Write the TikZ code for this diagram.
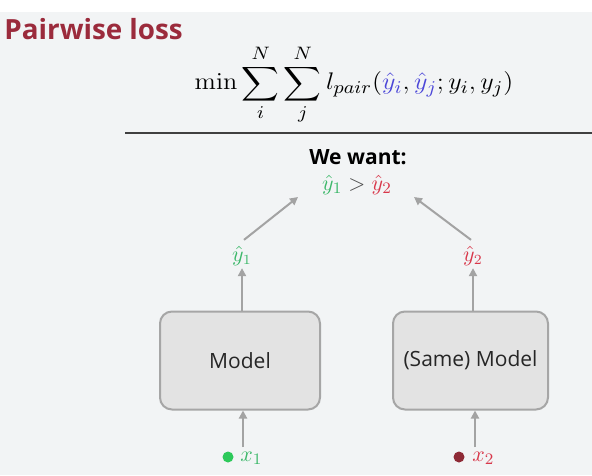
\documentclass[tikz,border=0pt]{standalone}
\usepackage{amsmath}
\usepackage{graphicx}
\usepackage[no-math]{fontspec}
\setmainfont{Open Sans}
\usetikzlibrary{arrows.meta}
\definecolor{titlered}{HTML}{9B2B3C}
\definecolor{ygreen}{HTML}{3DB86A}
\definecolor{yred}{HTML}{D8374A}
\definecolor{dotred}{HTML}{8E2A36}
\definecolor{dotgreen}{HTML}{2DC95A}
\definecolor{yblue}{HTML}{4B46D8}
\definecolor{arrowgrey}{HTML}{A3A3A3}
\definecolor{boxfill}{HTML}{E3E3E3}
\definecolor{boxline}{HTML}{A6A6A6}
\definecolor{slidebg}{HTML}{F2F4F5}
\tikzset{
  modelbox/.style={draw=boxline, fill=boxfill, line width=1pt, rounded corners=6pt, inner sep=0pt, font=\fontsize{10.5}{12}\selectfont, text=black!85},
  conn/.style={draw=arrowgrey, line width=1pt, -{Triangle[length=4pt,width=4pt]}},
  lab/.style={inner sep=1pt},
  dotg/.style={circle, fill=dotgreen, inner sep=0pt, minimum size=5.5pt},
  dotr/.style={circle, fill=dotred, inner sep=0pt, minimum size=5.5pt}
}
\begin{document}
\begin{tikzpicture}[x=0.5pt,y=-0.5pt]
\useasboundingbox (0,0) rectangle (592,475);
\fill[white] (0,0) rectangle (592,12);
\fill[slidebg] (0,12) rectangle (592,475);
\node[anchor=west, inner sep=0pt, text=titlered, font=\bfseries\fontsize{13.9}{16}\selectfont] (title) at (4,29) {Pairwise loss};
\node[inner sep=0pt, font=\fontsize{13.2}{16}\selectfont] (formula) at (354,85) {\scalebox{1.09}[1]{$\displaystyle \min\sum_{i}^{N}\sum_{j}^{N} l_{pair}(\textcolor{yblue}{\hat{y}_i}, \textcolor{yblue}{\hat{y}_j}; y_i, y_j)$}};
\coordinate (ruleL) at (125,133);
\coordinate (ruleR) at (592,133);
\draw[black!75, line width=0.6pt] (ruleL) -- (ruleR);
\node[font=\bfseries\fontsize{10.5}{12}\selectfont, inner sep=0pt] (want) at (358,157) {We want:};
\node[font=\fontsize{11}{13}\selectfont, inner sep=1pt] (cmp) at (357,185) {$\textcolor{ygreen}{\hat{y}_1} \mathrel{\textcolor{black!70}{>}} \textcolor{yred}{\hat{y}_2}$};
\coordinate (cmpL) at (298,197);
\coordinate (cmpR) at (414,197);
\node[modelbox, minimum width=80pt, minimum height=49pt] (m1) at (240,360.5) {Model};
\node[modelbox, minimum width=77.5pt, minimum height=49pt] (m2) at (470.5,360.5) {(Same) Model};
\node[lab, font=\fontsize{10.5}{12}\selectfont] (y1) at (242,256) {$\textcolor{ygreen}{\hat{y}_1}$};
\node[lab, font=\fontsize{10.5}{12}\selectfont] (y2) at (473,256) {$\textcolor{yred}{\hat{y}_2}$};
\node[dotg] (d1) at (228,457) {};
\node[dotr] (d2) at (459,457) {};
\node[lab, anchor=west, font=\fontsize{11}{12}\selectfont] (x1) at (238,458) {$\textcolor{ygreen}{x_1}$};
\node[lab, anchor=west, font=\fontsize{11}{12}\selectfont] (x2) at (470,458) {$\textcolor{yred}{x_2}$};
\coordinate (in1) at (243,447);
\coordinate (in2) at (475,447);
\draw[conn] (in1) -- (in1 |- m1.south);
\draw[conn] (in2) -- (in2 |- m2.south);
\draw[conn] (m1.north -| y1) -- (y1.south);
\draw[conn] (m2.north -| y2) -- (y2.south);
\draw[conn] ([xshift=1pt,yshift=2pt]y1.north) -- (cmpL);
\draw[conn] ([xshift=-1pt,yshift=2pt]y2.north) -- (cmpR);
\end{tikzpicture}
\end{document}
